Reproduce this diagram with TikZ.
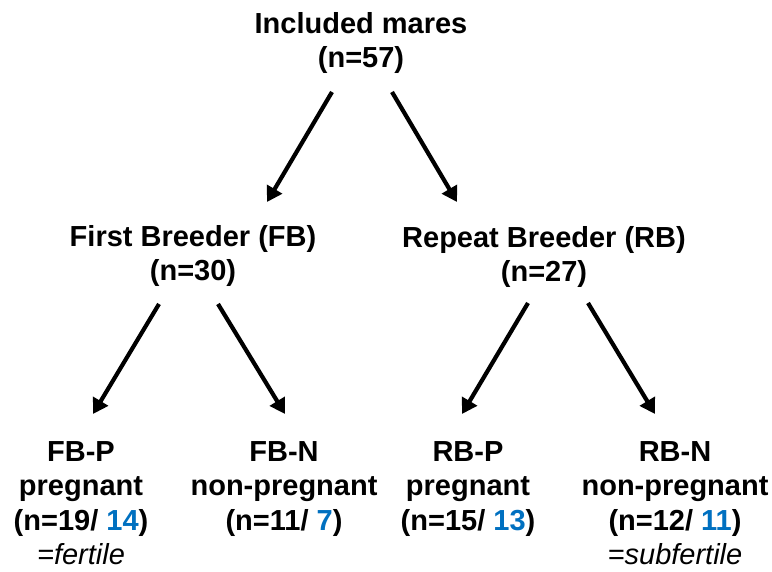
\documentclass[tikz,border=0pt]{standalone}
\usepackage{fontspec}
\setmainfont{Liberation Sans}
\usetikzlibrary{arrows.meta}
\definecolor{nblue}{RGB}{0,112,192}
\begin{document}
\begin{tikzpicture}[x=1pt,y=-1pt,
  lbl/.style={anchor=north,inner sep=0pt,align=center,
    font=\fontsize{29}{34.5}\selectfont\bfseries},
  arr/.style={line width=4.2pt,-{Triangle[length=15pt,width=17pt]}},
  num/.style={text=nblue}]
\useasboundingbox (0,0) rectangle (772,572);
\node[lbl] (top) at (361,12) {Included mares\\(n=57)};
\node[lbl] (fb) at (193,225) {First Breeder (FB)\\(n=30)};
\node[lbl] (rb) at (544,226) {Repeat Breeder (RB)\\(n=27)};
\node[lbl] (fbp) at (81,441) {FB-P\\pregnant\\(n=19/ \textcolor{nblue}{14})\\{\mdseries\itshape =fertile}};
\node[lbl] (fbn) at (284,441) {FB-N\\non-pregnant\\(n=11/ \textcolor{nblue}{7})};
\node[lbl] (rbp) at (468,441) {RB-P\\pregnant\\(n=15/ \textcolor{nblue}{13})};
\node[lbl] (rbn) at (675,441) {RB-N\\non-pregnant\\(n=12/ \textcolor{nblue}{11})\\{\mdseries\itshape =subfertile}};
\draw[arr] ([xshift=-29pt,yshift=-80pt]top.north) -- ([xshift=74pt,yshift=23pt]fb.north);
\draw[arr] ([xshift=31pt,yshift=-80pt]top.north) -- ([xshift=-87pt,yshift=24pt]rb.north);
\draw[arr] ([xshift=-34pt,yshift=-79pt]fb.north) -- ([xshift=12pt,yshift=27pt]fbp.north);
\draw[arr] ([xshift=25pt,yshift=-79pt]fb.north) -- ([xshift=1pt,yshift=27pt]fbn.north);
\draw[arr] ([xshift=-16pt,yshift=-77pt]rb.north) -- ([xshift=-6pt,yshift=27pt]rbp.north);
\draw[arr] ([xshift=44pt,yshift=-77pt]rb.north) -- ([xshift=-20pt,yshift=27pt]rbn.north);
\end{tikzpicture}
\end{document}
